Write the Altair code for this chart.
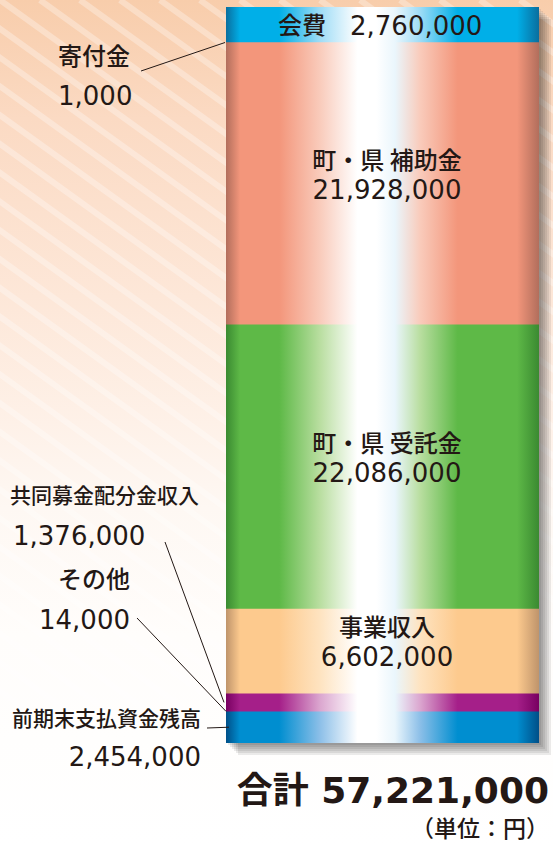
import altair as alt
import pandas as pd

# ---------------- data ----------------
keys = ["kaihi", "kifu", "hojo", "itaku", "jigyo", "kyodo", "sonota", "zenki"]
names = ["会費", "寄付金", "町・県 補助金", "町・県 受託金", "事業収入",
         "共同募金配分金収入", "その他", "前期末支払資金残高"]
values = [2760000, 1000, 21928000, 22086000, 6602000, 1376000, 14000, 2454000]
total_label = "合計"
unit_label = "（単位：円）"

df = pd.DataFrame({"key": keys, "name": names, "value": values})
df["end"] = df["value"].cumsum()
df["start"] = df["end"] - df["value"]
df["mid"] = (df["start"] + df["end"]) / 2
df["vtext"] = df["value"].map(lambda v: f"{v:,}")
total = int(df["value"].sum())

# ---------------- layout / style ----------------
W, H = 553, 846
BX0, BX1 = 226, 539
BY0, BY1 = 7, 743
BCX = 387
INK = "#231815"
JP = "Noto Sans CJK JP"
NUM = "DejaVu Sans"

yscale = alt.Scale(domain=[0, total], range=[BY0, BY1], nice=False, zero=False)

palette = {
    "kaihi": ("#0a6e9e", "#00afe8", "#9edcf6"),
    "kifu": ("#b26e5c", "#f3967b", "#f9cbbb"),
    "hojo": ("#b26e5c", "#f3967b", "#f9cbbb"),
    "itaku": ("#3a8a31", "#5eb947", "#b9dea0"),
    "jigyo": ("#bf946b", "#fdca8e", "#fee3c0"),
    "kyodo": ("#780061", "#a51f89", "#dba6cf"),
    "sonota": ("#780061", "#a51f89", "#dba6cf"),
    "zenki": ("#004f88", "#008ed0", "#8cbfe8"),
}


def seg_gradient(dark, base, light):
    stops = [(0.0, dark), (0.045, base), (0.17, base), (0.3, light),
             (0.42, "#ffffff"), (0.48, "#ffffff"), (0.54, "#eaf6fc"),
             (0.62, light), (0.74, base), (0.93, base), (1.0, dark)]
    return alt.Gradient(gradient="linear", x1=0, x2=1, y1=0, y2=0,
                        stops=[alt.GradientStop(color=c, offset=o) for o, c in stops])


outside = {
    "kifu": dict(nx=58, ny=58, na="left", ns=24, vx=58, vy=97, va="left", lx=141, ly=71, bx=225),
    "kyodo": dict(nx=10, ny=497, na="left", ns=21, vx=13, vy=537, va="left", lx=165, ly=542, bx=224),
    "sonota": dict(nx=130, ny=581, na="right", ns=24, vx=130, vy=621, va="right", lx=137, ly=618, bx=226),
    "zenki": dict(nx=12, ny=720, na="left", ns=21, vx=201, vy=758, va="right", lx=207, ly=728, bx=229),
}
inside_two = ["hojo", "itaku", "jigyo"]

one = pd.DataFrame({"start": [0], "end": [total]})

layers = []

# background gradient
bg = alt.Gradient(gradient="linear", x1=0, x2=0, y1=0, y2=1, stops=[
    alt.GradientStop(color="#f8cdab", offset=0),
    alt.GradientStop(color="#fbdac3", offset=0.14),
    alt.GradientStop(color="#fde7d8", offset=0.35),
    alt.GradientStop(color="#fef1e8", offset=0.5),
    alt.GradientStop(color="#fef8f3", offset=0.6),
    alt.GradientStop(color="#fffdfb", offset=0.75),
    alt.GradientStop(color="#ffffff", offset=1),
])
layers.append(alt.Chart(one).mark_rect(fill=bg).encode(
    x=alt.value(0), x2=alt.value(W), y=alt.value(0), y2=alt.value(H)))

# decorative diagonal stripes
stripe_x = list(range(-1200, W + 40, 40))
stripes = pd.DataFrame({"sx": stripe_x, "sx2": [s + 1175 for s in stripe_x]})
layers.append(alt.Chart(stripes).mark_rule(color="white", strokeWidth=6, opacity=0.3, clip=True).encode(
    x=alt.X("sx:Q", scale=None), x2="sx2:Q", y=alt.value(0), y2=alt.value(H)))

# soft drop shadow (stacked translucent rects)
for k in [2, 4, 6, 8, 10, 12]:
    layers.append(alt.Chart(one).mark_rect(
        color="#000000", opacity=0.08,
        xOffset=k, x2Offset=k, yOffset=k, y2Offset=k).encode(
        x=alt.value(BX0), x2=alt.value(BX1),
        y=alt.Y("start:Q", scale=yscale, axis=None), y2="end:Q"))

# stacked segments (each extends slightly under the next to hide seams)
for i, k in enumerate(keys):
    extra = 1.0 if i < len(keys) - 1 else 0
    layers.append(alt.Chart(df).transform_filter(alt.datum.key == k).mark_rect(
        fill=seg_gradient(*palette[k]), y2Offset=extra).encode(
        x=alt.value(BX0), x2=alt.value(BX1),
        y=alt.Y("start:Q", scale=yscale, axis=None), y2="end:Q"))

# inside labels
for k in inside_two:
    base = alt.Chart(df).transform_filter(alt.datum.key == k)
    layers.append(base.mark_text(font=JP, fontSize=24, fontWeight=500, color=INK, dy=-22,
                                 align="center", baseline="middle").encode(
        x=alt.value(BCX), y=alt.Y("mid:Q", scale=yscale, axis=None), text="name:N"))
    layers.append(base.mark_text(font=NUM, fontSize=26, color=INK, dy=7,
                                 align="center", baseline="middle").encode(
        x=alt.value(BCX), y=alt.Y("mid:Q", scale=yscale, axis=None), text="vtext:N"))

kb = alt.Chart(df).transform_filter(alt.datum.key == "kaihi")
layers.append(kb.mark_text(font=JP, fontSize=24, fontWeight=500, color=INK, dy=2,
                           align="right", baseline="middle").encode(
    x=alt.value(326), y=alt.Y("mid:Q", scale=yscale, axis=None), text="name:N"))
layers.append(kb.mark_text(font=NUM, fontSize=26, color=INK, dy=2,
                           align="left", baseline="middle").encode(
    x=alt.value(350), y=alt.Y("mid:Q", scale=yscale, axis=None), text="vtext:N"))

# outside labels with leader lines
for k, o in outside.items():
    base = alt.Chart(df).transform_filter(alt.datum.key == k)
    layers.append(base.mark_rule(color=INK, strokeWidth=1).encode(
        x=alt.value(o["bx"]), y=alt.Y("mid:Q", scale=yscale, axis=None),
        x2=alt.value(o["lx"]), y2=alt.value(o["ly"])))
    layers.append(base.mark_text(font=JP, fontSize=o["ns"], fontWeight=500, color=INK,
                                 align=o["na"], baseline="middle").encode(
        x=alt.value(o["nx"]), y=alt.value(o["ny"]), text="name:N"))
    layers.append(base.mark_text(font=NUM, fontSize=26, color=INK,
                                 align=o["va"], baseline="middle").encode(
        x=alt.value(o["vx"]), y=alt.value(o["vy"]), text="vtext:N"))

# total
tot = pd.DataFrame({"t": [f"{total_label} {total:,}"], "u": [unit_label]})
layers.append(alt.Chart(tot).mark_text(font=f"{NUM}, {JP}", fontSize=36, fontWeight="bold",
                                       color=INK, align="right", baseline="middle").encode(
    x=alt.value(549), y=alt.value(792), text="t:N"))
layers.append(alt.Chart(tot).mark_text(font=JP, fontSize=23, fontWeight=500,
                                       color=INK, align="right", baseline="middle").encode(
    x=alt.value(549), y=alt.value(830), text="u:N"))

chart = alt.layer(*layers).properties(
    width=W, height=H, padding=0, autosize=alt.AutoSizeParams(type="none"),
    background="white"
).configure_view(stroke=None)

chart.save("out.html", embed_options={"renderer": "svg", "actions": False})
